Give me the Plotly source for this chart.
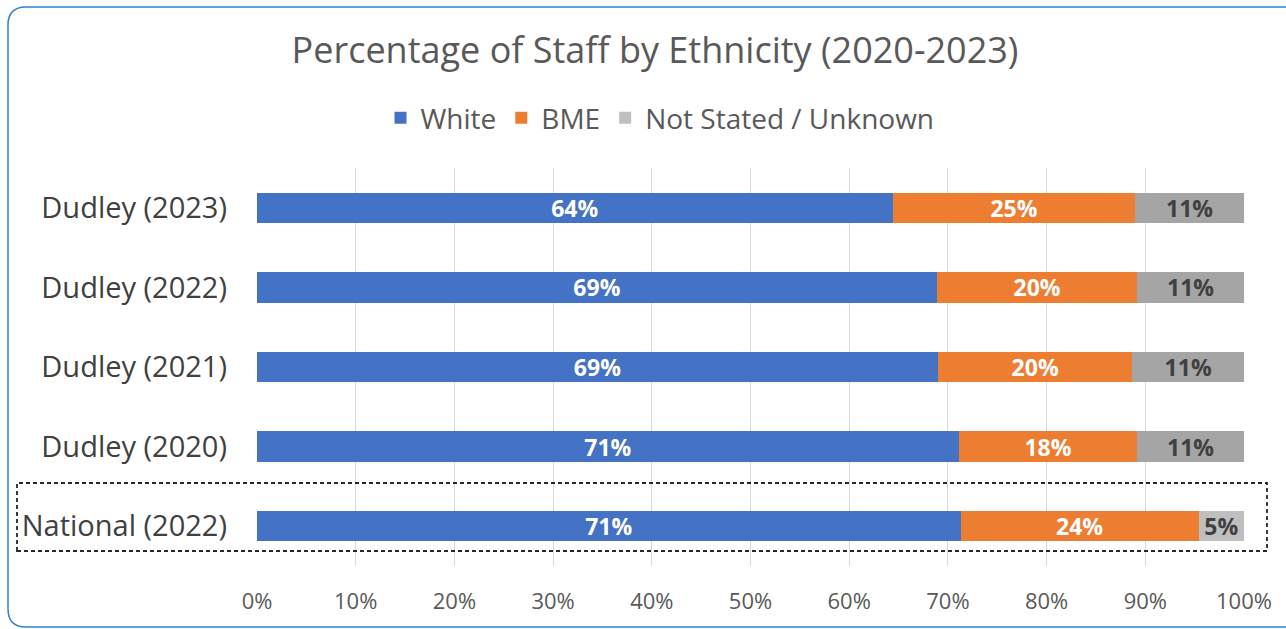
import plotly.graph_objects as go

categories = ["National (2022)", "Dudley (2020)", "Dudley (2021)", "Dudley (2022)", "Dudley (2023)"]
white = [71.3, 71.1, 69.0, 68.9, 64.4]
bme = [24.1, 18.1, 19.7, 20.3, 24.6]
not_stated = [4.6, 10.8, 11.3, 10.8, 11.0]
white_labels = ["71%", "71%", "69%", "69%", "64%"]
bme_labels = ["24%", "18%", "20%", "20%", "25%"]
ns_labels = ["5%", "11%", "11%", "11%", "11%"]
tick_vals = [0, 10, 20, 30, 40, 50, 60, 70, 80, 90, 100]
tick_text = ["0%", "10%", "20%", "30%", "40%", "50%", "60%", "70%", "80%", "90%", "100%"]

FONT = "Open Sans"
W, H = 1286, 629
L, R, T, B = 257, 42, 168, 63

def px(x):
    return (x - L) / (W - L - R)

def py(y):
    return (H - B - y) / (H - T - B)

fig = go.Figure()
lbl_font_w = dict(family=FONT, size=23, color="white", weight="bold")
fig.add_trace(go.Bar(y=categories, x=white, name="White", orientation="h",
                     marker=dict(color="#4472c4", line=dict(width=0)),
                     text=white_labels, textposition="inside", insidetextanchor="middle",
                     textangle=0, textfont=lbl_font_w, constraintext="none",
                     hoverinfo="skip"))
fig.add_trace(go.Bar(y=categories, x=bme, name="BME", orientation="h",
                     marker=dict(color="#ed7d31", line=dict(width=0)),
                     text=bme_labels, textposition="inside", insidetextanchor="middle",
                     textangle=0, textfont=lbl_font_w, constraintext="none",
                     hoverinfo="skip"))
fig.add_trace(go.Bar(y=categories, x=not_stated, name="Not Stated / Unknown", orientation="h",
                     marker=dict(color=["#bfbfbf", "#a5a5a5", "#a5a5a5", "#a5a5a5", "#a5a5a5"],
                                 line=dict(width=0)),
                     text=ns_labels, textposition="inside", insidetextanchor="middle",
                     textangle=0, textfont=dict(family=FONT, size=23, color="#404040", weight="bold"),
                     constraintext="none", hoverinfo="skip"))

# rounded border
x0, x1, y0, y1, r = 8, 1300, 7, 627, 18
path = (f"M {px(x0)},{py(y0 + r)} Q {px(x0)},{py(y0)} {px(x0 + r)},{py(y0)} "
        f"L {px(x1)},{py(y0)} L {px(x1)},{py(y1)} L {px(x0 + r)},{py(y1)} "
        f"Q {px(x0)},{py(y1)} {px(x0)},{py(y1 - r)} Z")
shapes = [
    dict(type="path", path=path, xref="paper", yref="paper",
         line=dict(color="#2f80d0", width=1.5), layer="below"),
    dict(type="rect", xref="paper", yref="paper",
         x0=px(17), x1=px(1267), y0=py(551), y1=py(483),
         line=dict(color="#262626", width=1.8, dash="4px,3px"), layer="above"),
]

fig.update_layout(
    width=W, height=H,
    margin=dict(l=L, r=R, t=T, b=B),
    barmode="stack",
    bargap=0.62,
    paper_bgcolor="white", plot_bgcolor="white",
    font=dict(family=FONT, color="#595959"),
    title=dict(text="Percentage of Staff by Ethnicity (2020-2023)",
               x=655 / W, xanchor="center", xref="container",
               y=1 - 50 / H, yanchor="middle", yref="container",
               font=dict(family=FONT, size=36, color="#595959")),
    legend=dict(orientation="h", x=px(660), xanchor="center", y=py(118), yanchor="middle",
                font=dict(family=FONT, size=28, color="#595959"),
                traceorder="normal", itemwidth=30),
    showlegend=True,
    shapes=shapes,
    xaxis=dict(range=[0, 100], tickvals=tick_vals, ticktext=tick_text,
               showgrid=True, gridcolor="#d9d9d9", gridwidth=1,
               zeroline=False, showline=False, ticks="",
               ticklabelstandoff=20,
               tickfont=dict(family=FONT, size=22, color="#595959"),
               fixedrange=True),
    yaxis=dict(categoryorder="array", categoryarray=categories,
               showgrid=False, zeroline=False, showline=False, ticks="",
               ticklabelstandoff=29,
               tickfont=dict(family=FONT, size=29, color="#404040"),
               fixedrange=True),
)

fig.write_html("out.html")
